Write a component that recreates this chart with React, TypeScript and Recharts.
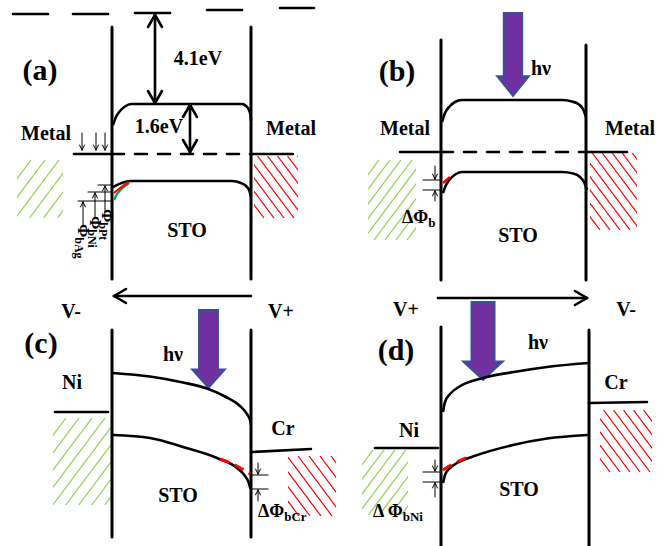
import React from "react";
import { ComposedChart, Line, XAxis, YAxis, ReferenceLine, ReferenceArea, ReferenceDot } from "recharts";

type Pt = { x: number; y: number };
type Seg = [number, number, number, number];

const W = 664;
const H = 546;
const SERIF = '"Liberation Serif", "Times New Roman", serif';
const GREEN = "#92D050";
const RED = "#FF0000";

// band edges (x, y in picture units)
const aConduction: Pt[] = [
  { x: 113, y: 125 }, { x: 116, y: 117 }, { x: 120, y: 111 }, { x: 125, y: 106.5 }, { x: 131, y: 104 },
  { x: 242, y: 104 }, { x: 246, y: 106 }, { x: 249, y: 110 }, { x: 250.5, y: 115 }, { x: 251, y: 121 },
];
const aValence: Pt[] = [
  { x: 113, y: 187 }, { x: 130, y: 181 }, { x: 232, y: 181 }, { x: 241, y: 183 }, { x: 246, y: 186 },
  { x: 249.5, y: 191 }, { x: 251, y: 197 },
];
const aValenceNi: Pt[] = [{ x: 114, y: 193 }, { x: 120, y: 188 }, { x: 129, y: 182 }];
const aValenceAg: Pt[] = [{ x: 114, y: 200 }, { x: 117, y: 194 }, { x: 122, y: 188.5 }, { x: 129, y: 183 }];

const bConduction: Pt[] = [
  { x: 442, y: 122 }, { x: 445, y: 113 }, { x: 450, y: 106 }, { x: 455, y: 102 }, { x: 462, y: 100 },
  { x: 562, y: 100 }, { x: 572, y: 101.5 }, { x: 579, y: 104.5 }, { x: 583, y: 109 }, { x: 586, y: 117 },
];
const bValence: Pt[] = [
  { x: 443, y: 193 }, { x: 446, y: 185 }, { x: 451, y: 178 }, { x: 456, y: 174 }, { x: 462, y: 172 },
  { x: 562, y: 172 }, { x: 573, y: 173.5 }, { x: 580, y: 177 }, { x: 584, y: 182 }, { x: 587, y: 190 },
];
const bValenceLit: Pt[] = [{ x: 443, y: 183 }, { x: 450, y: 177 }];

const cConduction: Pt[] = [
  { x: 113, y: 373 }, { x: 150, y: 376.5 }, { x: 183, y: 382.5 }, { x: 207, y: 388.5 }, { x: 226, y: 397 },
  { x: 240, y: 406 }, { x: 247, y: 414 }, { x: 250, y: 420 }, { x: 251, y: 425 },
];
const cValence: Pt[] = [
  { x: 113, y: 435 }, { x: 150, y: 438 }, { x: 183, y: 447 }, { x: 217, y: 458 }, { x: 237, y: 468 },
  { x: 245, y: 476 }, { x: 248.5, y: 482 }, { x: 250.5, y: 489 },
];
const cValenceLit: Pt[] = [{ x: 220, y: 459 }, { x: 236, y: 465.5 }, { x: 250, y: 474 }];

const dConduction: Pt[] = [
  { x: 443, y: 412 }, { x: 445, y: 402 }, { x: 450, y: 394 }, { x: 458, y: 387.5 }, { x: 483, y: 378 },
  { x: 517, y: 371.5 }, { x: 547, y: 367 }, { x: 588, y: 363 },
];
const dValence: Pt[] = [
  { x: 443, y: 483 }, { x: 445, y: 475 }, { x: 449, y: 469 }, { x: 457, y: 463 }, { x: 473, y: 456.5 },
  { x: 513, y: 445 }, { x: 547, y: 438.5 }, { x: 588, y: 435 },
];
const dValenceLit: Pt[] = [{ x: 443, y: 470 }, { x: 455, y: 463 }, { x: 467, y: 457.5 }];

// straight pieces
const vacuumLevel: Seg[] = [
  [13, 14, 48, 14], [73, 14, 108, 14], [135, 13, 170, 13], [207, 10, 242, 10], [280, 8, 314, 8],
];
const walls: Seg[] = [
  [112, 27, 112, 279], [251, 27, 251, 279], [441, 40, 441, 280], [586, 45, 586, 280],
  [112, 330, 112, 537], [251, 330, 251, 537], [441, 327, 441, 546], [589, 330, 589, 546],
];
const fermiSolid: Seg[] = [
  [74, 154, 112, 154], [251, 154, 293, 154], [400, 152, 441, 152], [586, 152, 627, 152],
  [55, 412, 108, 412], [251, 452, 311, 449], [375, 448, 438, 448], [589, 403, 647, 402],
];
const fermiDashed: Seg[] = [[112, 154, 251, 154], [441, 152, 586, 152]];
const barrierTicks: Seg[] = [
  [98, 185, 112, 185], [88, 192, 112, 192], [78, 201, 112, 201],
  [423, 180, 441, 180], [423, 190, 441, 190],
  [251, 475, 268, 475], [251, 489, 268, 489],
  [423, 472, 441, 472], [423, 482, 441, 482],
];

type Arrow = { seg: Seg; both?: boolean };
const thickArrows: Arrow[] = [
  { seg: [155, 15, 155, 103], both: true },
  { seg: [190, 105, 190, 152], both: true },
  { seg: [251, 296, 114, 296] },
  { seg: [438, 298, 587, 298] },
];
const thinArrows: Arrow[] = [
  { seg: [82, 133, 82, 150] }, { seg: [96, 133, 96, 150] }, { seg: [105, 133, 105, 150] },
  { seg: [105, 212, 105, 186] }, { seg: [95, 218, 95, 193] }, { seg: [83, 226, 83, 202] },
  { seg: [435, 166, 435, 179] }, { seg: [435, 201, 435, 191] },
  { seg: [258, 463, 258, 474] }, { seg: [258, 501, 258, 490] },
  { seg: [435, 460, 435, 471] }, { seg: [435, 497, 435, 483] },
];

// light arrows (hν): bounding boxes
const lightArrows = [
  { x1: 497, x2: 529, y1: 13, y2: 96 },
  { x1: 192, x2: 225, y1: 310, y2: 388 },
  { x1: 463, x2: 503, y1: 302, y2: 380 },
];

// metal hatching
const hatches = [
  { id: "ag", x1: 17, x2: 63, y1: 160, y2: 218, metal: "left", gap: 14 },
  { id: "ar", x1: 254, x2: 298, y1: 156, y2: 218, metal: "right", gap: 10 },
  { id: "bg", x1: 368, x2: 416, y1: 160, y2: 240, metal: "left", gap: 11 },
  { id: "br", x1: 590, x2: 637, y1: 153, y2: 230, metal: "right", gap: 10 },
  { id: "cg", x1: 53, x2: 111, y1: 418, y2: 505, metal: "left", gap: 13 },
  { id: "cr", x1: 288, x2: 336, y1: 456, y2: 516, metal: "right", gap: 11 },
  { id: "dg", x1: 362, x2: 408, y1: 450, y2: 515, metal: "left", gap: 11 },
  { id: "dr", x1: 600, x2: 652, y1: 410, y2: 472, metal: "right", gap: 10 },
];

type Label = { x: number; y: number; main: string; sub?: string; kind: "tag" | "word" | "sym" | "rot" };
const labels: Label[] = [
  { x: 40, y: 69, main: "(a)", kind: "tag" },
  { x: 397, y: 70, main: "(b)", kind: "tag" },
  { x: 41, y: 342, main: "(c)", kind: "tag" },
  { x: 396, y: 349, main: "(d)", kind: "tag" },
  { x: 198, y: 58, main: "4.1eV", kind: "word" },
  { x: 159, y: 126, main: "1.6eV", kind: "word" },
  { x: 46, y: 133, main: "Metal", kind: "word" },
  { x: 291, y: 128, main: "Metal", kind: "word" },
  { x: 187, y: 230, main: "STO", kind: "word" },
  { x: 541, y: 68, main: "hν", kind: "word" },
  { x: 405, y: 128, main: "Metal", kind: "word" },
  { x: 630, y: 128, main: "Metal", kind: "word" },
  { x: 518, y: 235, main: "STO", kind: "word" },
  { x: 71, y: 311, main: "V-", kind: "word" },
  { x: 281, y: 311, main: "V+", kind: "word" },
  { x: 173, y: 354, main: "hν", kind: "word" },
  { x: 72, y: 382, main: "Ni", kind: "word" },
  { x: 283, y: 428, main: "Cr", kind: "word" },
  { x: 178, y: 495, main: "STO", kind: "word" },
  { x: 406, y: 309, main: "V+", kind: "word" },
  { x: 626, y: 309, main: "V-", kind: "word" },
  { x: 538, y: 342, main: "hν", kind: "word" },
  { x: 616, y: 382, main: "Cr", kind: "word" },
  { x: 409, y: 430, main: "Ni", kind: "word" },
  { x: 519, y: 489, main: "STO", kind: "word" },
  { x: 402, y: 217, main: "ΔΦ", sub: "b", kind: "sym" },
  { x: 258, y: 511, main: "ΔΦ", sub: "bCr", kind: "sym" },
  { x: 373, y: 511, main: "Δ Φ", sub: "bNi", kind: "sym" },
  { x: 107, y: 209, main: "Φ", sub: "bPt", kind: "rot" },
  { x: 95.5, y: 216, main: "Φ", sub: "bNi", kind: "rot" },
  { x: 83, y: 224, main: "Φ", sub: "bAg", kind: "rot" },
];

const curves = [
  { id: "aCB", data: aConduction, color: "#000", w: 2.6 },
  { id: "aVB", data: aValence, color: "#000", w: 2.6 },
  { id: "aAg", data: aValenceAg, color: "#00A050", w: 2.2 },
  { id: "aNi", data: aValenceNi, color: RED, w: 2.2 },
  { id: "bCB", data: bConduction, color: "#000", w: 2.6 },
  { id: "bVB", data: bValence, color: "#000", w: 2.6 },
  { id: "bLit", data: bValenceLit, color: RED, w: 2.6 },
  { id: "cCB", data: cConduction, color: "#000", w: 2.6 },
  { id: "cVB", data: cValence, color: "#000", w: 2.6 },
  { id: "dCB", data: dConduction, color: "#000", w: 2.6 },
  { id: "dVB", data: dValence, color: "#000", w: 2.6 },
];
const litCurves = [
  { id: "cLit", data: cValenceLit },
  { id: "dLit", data: dValenceLit },
];

function headSegs(seg: Seg, len: number, half: number): Seg[] {
  const [x1, y1, x2, y2] = seg;
  const l = Math.hypot(x2 - x1, y2 - y1);
  const ux = (x2 - x1) / l, uy = (y2 - y1) / l;
  const bx = x2 - ux * len, by = y2 - uy * len;
  return [
    [x2, y2, bx - uy * half, by + ux * half],
    [x2, y2, bx + uy * half, by - ux * half],
  ];
}

function arrowSegs(a: Arrow, len: number, half: number): Seg[] {
  const out: Seg[] = [a.seg, ...headSegs(a.seg, len, half)];
  if (a.both) {
    const [x1, y1, x2, y2] = a.seg;
    out.push(...headSegs([x2, y2, x1, y1], len, half));
  }
  return out;
}

function seg(s: Seg, key: string, stroke: string, width: number, dash?: string) {
  return (
    <ReferenceLine
      key={key}
      segment={[{ x: s[0], y: s[1] }, { x: s[2], y: s[3] }]}
      stroke={stroke}
      strokeWidth={width}
      strokeDasharray={dash}
      strokeLinecap="round"
    />
  );
}

function HatchShape(props: any) {
  const { x, y, width, height, id, color, dir, gap } = props;
  const slant = 0.75 * height;
  const lines: React.ReactNode[] = [];
  let i = 0;
  for (let x0 = x - slant; x0 <= x + width + slant; x0 += gap) {
    const a = dir === "left" ? [x0, y + height, x0 + slant, y] : [x0, y, x0 + slant, y + height];
    lines.push(<line key={i++} x1={a[0]} y1={a[1]} x2={a[2]} y2={a[3]} stroke={color} strokeWidth={1.2} />);
  }
  return (
    <g>
      <defs>
        <clipPath id={`hatch-${id}`}>
          <rect x={x} y={y} width={width} height={height} />
        </clipPath>
      </defs>
      <g clipPath={`url(#hatch-${id})`}>{lines}</g>
    </g>
  );
}

function LightArrow(props: any) {
  const { x, y, width, height } = props;
  const cx = x + width / 2;
  const sw = width * 0.29;
  const neck = y + height * 0.76;
  const pts = [
    [cx - sw, y], [cx + sw, y], [cx + sw, neck], [x + width, neck],
    [cx, y + height], [x, neck], [cx - sw, neck],
  ].map((p) => p.join(",")).join(" ");
  return <polygon points={pts} fill="#7030A0" stroke="#2F5597" strokeWidth={1.8} />;
}

function LabelShape({ cx, cy, l }: { cx: number; cy: number; l: Label }) {
  const common = { fontFamily: SERIF, fontWeight: 700, fill: "#000", dominantBaseline: "central" as const };
  if (l.kind === "tag") {
    return <text x={cx} y={cy} textAnchor="middle" fontSize={30} {...common}>{l.main}</text>;
  }
  if (l.kind === "word") {
    return <text x={cx} y={cy} textAnchor="middle" fontSize={20} {...common}>{l.main}</text>;
  }
  if (l.kind === "sym") {
    return (
      <text x={cx} y={cy} textAnchor="start" fontSize={18} {...common}>
        {l.main}
        <tspan fontSize={13} dy={5}>{l.sub}</tspan>
      </text>
    );
  }
  return (
    <text x={cx} y={cy} transform={`rotate(90, ${cx}, ${cy})`} textAnchor="start" fontSize={16} {...common}>
      {l.main}
      <tspan fontSize={12} dy={4}>{l.sub}</tspan>
    </text>
  );
}

export default function App() {
  return (
    <div style={{ position: "absolute", left: 0, top: 0, width: W, height: H, background: "#fff" }}>
      <ComposedChart width={W} height={H} margin={{ top: 0, right: 0, bottom: 0, left: 0 }}>
        <XAxis type="number" dataKey="x" domain={[0, W]} allowDataOverflow hide />
        <YAxis type="number" dataKey="y" domain={[0, H]} allowDataOverflow reversed hide />

        {hatches.map((h) => (
          <ReferenceArea
            key={h.id}
            x1={h.x1}
            x2={h.x2}
            y1={h.y1}
            y2={h.y2}
            shape={(p: any) => (
              <HatchShape {...p} id={h.id} dir={h.metal} gap={h.gap} color={h.metal === "left" ? GREEN : RED} />
            )}
          />
        ))}

        {vacuumLevel.map((s, i) => seg(s, `vac${i}`, "#000", 2.6))}
        {walls.map((s, i) => seg(s, `wall${i}`, "#000", 3))}
        {fermiSolid.map((s, i) => seg(s, `ef${i}`, "#000", 2.6))}
        {fermiDashed.map((s, i) => seg(s, `efd${i}`, "#000", 2.6, "12 11"))}
        {barrierTicks.map((s, i) => seg(s, `tick${i}`, "#000", 1))}
        {thickArrows.flatMap((a, i) => arrowSegs(a, 12, 7).map((s, j) => seg(s, `ta${i}-${j}`, "#000", 2.6)))}
        {thinArrows.flatMap((a, i) => arrowSegs(a, 5, 2.5).map((s, j) => seg(s, `na${i}-${j}`, "#000", 1)))}

        {curves.map((c) => (
          <Line
            key={c.id}
            data={c.data}
            dataKey="y"
            type="monotone"
            stroke={c.color}
            strokeWidth={c.w}
            dot={false}
            activeDot={false}
            isAnimationActive={false}
          />
        ))}
        {litCurves.map((c) => (
          <Line
            key={c.id}
            data={c.data}
            dataKey="y"
            type="monotone"
            stroke={RED}
            strokeWidth={3}
            strokeDasharray="10 6"
            dot={false}
            activeDot={false}
            isAnimationActive={false}
          />
        ))}

        {lightArrows.map((a, i) => (
          <ReferenceArea key={`hv${i}`} x1={a.x1} x2={a.x2} y1={a.y1} y2={a.y2} shape={(p: any) => <LightArrow {...p} />} />
        ))}

        {labels.map((l, i) => (
          <ReferenceDot key={`lb${i}`} x={l.x} y={l.y} r={0} shape={(p: any) => <LabelShape cx={p.cx} cy={p.cy} l={l} />} />
        ))}
      </ComposedChart>
    </div>
  );
}
